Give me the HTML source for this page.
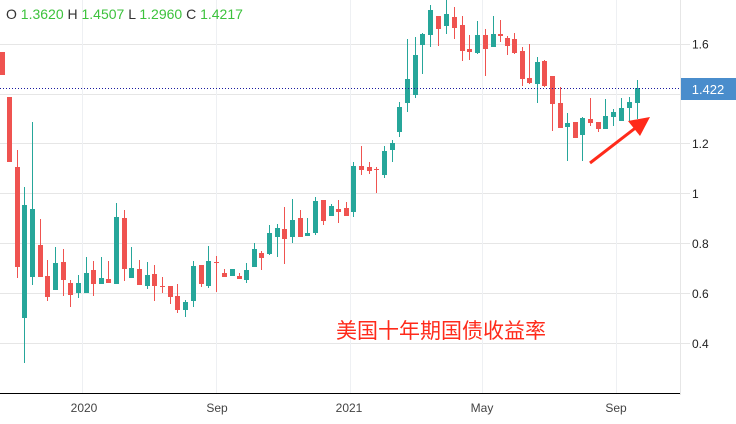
<!DOCTYPE html>
<html><head><meta charset="utf-8">
<style>
body{margin:0;background:#fff;width:736px;height:424px;overflow:hidden;font-family:"Liberation Sans",sans-serif}
svg{display:block}
</style></head><body>
<svg id="s" width="736" height="424" xmlns="http://www.w3.org/2000/svg" font-family="Liberation Sans, sans-serif">
<rect width="736" height="424" fill="#fff"/>
<g stroke="#e6e6e6" stroke-width="1">
<line x1="0" y1="44.5" x2="680" y2="44.5"/><line x1="0" y1="94.5" x2="680" y2="94.5"/>
<line x1="0" y1="143.5" x2="680" y2="143.5"/><line x1="0" y1="193.5" x2="680" y2="193.5"/>
<line x1="0" y1="243.5" x2="680" y2="243.5"/><line x1="0" y1="293.5" x2="680" y2="293.5"/>
<line x1="0" y1="343.5" x2="680" y2="343.5"/>
</g>
<g stroke="#eef0f3" stroke-width="1">
<line x1="82.5" y1="0" x2="82.5" y2="393"/><line x1="216.5" y1="0" x2="216.5" y2="393"/>
<line x1="350.5" y1="0" x2="350.5" y2="393"/><line x1="482.5" y1="0" x2="482.5" y2="393"/>
<line x1="616.5" y1="0" x2="616.5" y2="393"/>
</g>
<line x1="680.5" y1="0" x2="680.5" y2="395" stroke="#e6e6e6"/>
<line x1="0" y1="393.5" x2="680" y2="393.5" stroke="#000"/>
<g stroke="#e6e6e6"><line x1="680" y1="44.5" x2="690" y2="44.5"/><line x1="680" y1="143.5" x2="690" y2="143.5"/><line x1="680" y1="193.5" x2="690" y2="193.5"/><line x1="680" y1="243.5" x2="690" y2="243.5"/><line x1="680" y1="293.5" x2="690" y2="293.5"/><line x1="680" y1="343.5" x2="690" y2="343.5"/></g>
<g font-size="12" fill="#222">
<text x="692" y="48.5">1.6</text><text x="692" y="148">1.2</text><text x="692" y="198">1</text>
<text x="692" y="248">0.8</text><text x="692" y="298">0.6</text><text x="692" y="348">0.4</text>
</g>
<g font-size="12" fill="#444" text-anchor="middle">
<text x="84" y="412">2020</text><text x="217" y="412">Sep</text><text x="349" y="412">2021</text>
<text x="482" y="412">May</text><text x="616" y="412">Sep</text>
</g>
<g id="c"></g>
<line x1="0" y1="88.5" x2="680" y2="88.5" stroke="#1a1aa0" stroke-dasharray="1,2"/>
<rect x="681" y="78" width="55" height="22" fill="#4a8dcc"/>
<text x="708" y="94" font-size="13" fill="#fff" text-anchor="middle">1.422</text>
<text x="6" y="19" font-size="14"><tspan fill="#333">O </tspan><tspan fill="#3cc23c">1.3620 </tspan><tspan fill="#333">H </tspan><tspan fill="#3cc23c">1.4507 </tspan><tspan fill="#333">L </tspan><tspan fill="#3cc23c">1.2960 </tspan><tspan fill="#333">C </tspan><tspan fill="#3cc23c">1.4217</tspan></text>
<text x="336" y="338" font-size="21" fill="#ff2a1a" font-family="Liberation Sans, Noto Sans CJK SC, sans-serif">美国十年期国债收益率</text>
<line x1="590" y1="163" x2="638" y2="126" stroke="#ff2a1a" stroke-width="3"/>
<polygon points="650,117 628,121 640,136" fill="#ff2a1a"/>
</svg>
<script>
var G="#26a69a",R="#ef5350";
var d=[
[2,52,75,52,75,R],[9,97,162,97,162,R],[17,167,267,150,278,R],[24,205,318,187,363,G],[32,209,277,122,285,G],
[40,245,277,219,277,R],[47,276,297,260,301,R],[55,263,290,247,290,G],[63,262,280,249,296,R],[70,283,295,280,307,R],
[78,283,293,275,298,G],[86,273,293,257,293,G],[93,270,284,261,296,R],[101,278,284,257,284,G],[108,279,283,261,283,R],
[116,217,284,203,284,G],[124,218,269,210,281,R],[131,268,278,247,278,G],[139,269,285,260,285,R],[147,275,286,262,289,G],
[154,274,286,265,301,R],[162,286,287,277,293,R],[170,286,297,286,304,R],[177,296,310,284,313,R],[185,302,310,300,317,G],
[193,266,301,261,307,G],[201,265,284,265,287,R],[208,261,286,246,288,G],[216,262,263,256,292,R],[224,273,277,269,277,R],
[232,269,276,269,276,G],[239,276,279,273,279,R],[246,270,280,263,283,G],[254,249,267,243,267,G],[261,253,258,251,270,R],
[269,233,254,225,255,G],[277,228,237,224,257,G],[284,229,239,207,264,R],[292,220,237,199,243,G],[300,218,237,210,237,R],
[307,233,236,218,236,G],[315,201,233,197,235,G],[323,200,221,200,225,R],[331,206,216,204,216,G],[338,209,212,200,223,R],
[346,208,216,202,216,R],[353,166,212,162,217,G],[361,166,170,146,175,R],[369,167,171,162,174,R],[376,169,170,167,193,R],
[384,151,175,146,178,G],[392,143,150,140,162,G],[399,107,132,102,137,G],[407,79,103,39,112,G],[415,55,95,37,98,G],
[422,34,45,33,74,G],[430,10,35,5,47,G],[438,16,29,16,46,R],[446,14,26,0,34,G],[454,17,28,7,39,R],
[462,25,51,16,61,R],[469,49,52,35,60,R],[477,35,53,21,54,G],[485,35,49,29,76,R],[493,34,47,16,47,G],
[500,34,36,20,42,R],[507,38,46,36,55,R],[514,39,53,33,54,R],[522,51,79,47,86,R],[529,78,83,44,84,R],
[537,62,84,57,103,G],[544,61,86,60,87,R],[552,76,104,76,131,R],[560,103,128,87,128,R],[567,123,127,113,161,G],
[575,122,138,122,138,R],[582,118,135,117,161,G],[590,119,123,98,126,R],[598,122,129,122,132,R],[605,116,129,99,129,G],
[613,112,117,109,126,G],[621,108,121,98,121,G],[629,102,108,97,121,G],[637,88,103,80,119,G]
];
var s="";
d.forEach(function(c){var x=c[0];
s+='<line x1="'+(x+0.5)+'" y1="'+c[3]+'" x2="'+(x+0.5)+'" y2="'+c[4]+'" stroke="'+c[5]+'" stroke-width="1"/>';
s+='<rect x="'+(x-2)+'" y="'+c[1]+'" width="5" height="'+Math.max(1,c[2]-c[1])+'" fill="'+c[5]+'"/>';});
document.getElementById("c").innerHTML=s;
</script>
</body></html>
